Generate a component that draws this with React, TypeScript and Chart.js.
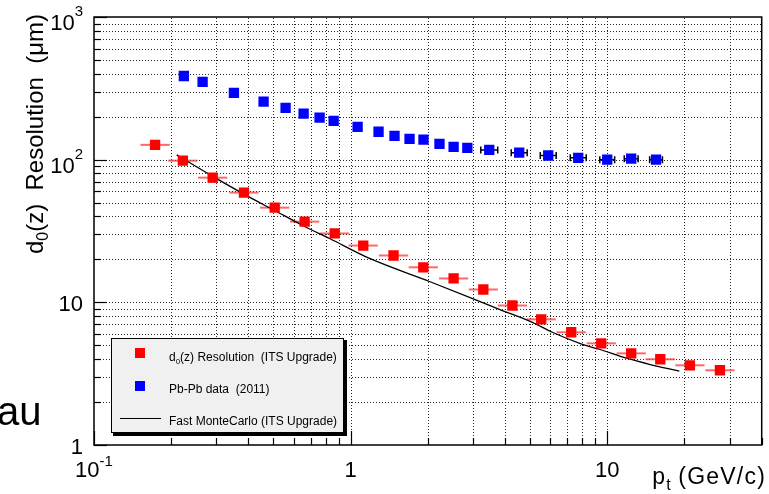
import React, { useEffect, useRef } from 'react';
import { Chart, registerables } from 'chart.js';

Chart.register(...registerables);

const W = 769;
const H = 494;
const FONT = "'Liberation Sans', Arial, Helvetica, sans-serif";

// d0(z) Resolution (ITS Upgrade) — red squares
const redPt = [0.173, 0.222, 0.29, 0.384, 0.506, 0.662, 0.867, 1.12, 1.47, 1.92, 2.52, 3.29, 4.27, 5.53, 7.24, 9.48, 12.4, 16.1, 21.0, 27.5];
const redD0 = [127, 98.4, 74.8, 58.8, 46.1, 36.8, 30.4, 25.0, 21.3, 17.6, 14.7, 12.3, 9.5, 7.6, 6.17, 5.16, 4.39, 3.99, 3.62, 3.34];
const redBinHalfWidthDex = 0.057;

// Pb-Pb data (2011) — blue squares
const bluePt = [0.224, 0.265, 0.351, 0.458, 0.558, 0.656, 0.757, 0.859, 1.065, 1.285, 1.483, 1.697, 1.923, 2.22, 2.52, 2.85, 3.47, 4.54, 5.89, 7.71, 10.0, 12.4, 15.5];
const blueD0 = [386, 351, 294, 255, 231, 210, 197, 187, 170, 157, 147, 140, 138, 129, 123, 121, 117, 112, 107, 103, 100, 101.6, 100];
const blueErrDex = [0, 0, 0, 0, 0, 0, 0, 0, 0, 0, 0, 0, 0, 0, 0, 0, 0.033, 0.031, 0.031, 0.031, 0.029, 0.027, 0.025];

// Fast MonteCarlo (ITS Upgrade) — black line
const mcPt = [0.21, 0.296, 0.387, 0.506, 0.662, 0.828, 1.186, 2.03, 3.04, 3.8, 5.11, 6.11, 8.0, 9.31, 11.9, 14.6, 19.1];
const mcD0 = [108, 74.8, 56.9, 44.0, 34.0, 28.0, 20.3, 14.0, 10.5, 8.93, 7.24, 6.17, 5.08, 4.69, 4.06, 3.68, 3.29];

// Axis ranges and tick labels
const xRange = [0.1, 40];
const yRange = [1, 1000];
const xTickValues = [0.1, 1, 10];
const xTickBase = ['10', '1', '10'];
const xTickSup = ['-1', '', ''];
const yTickValues = [1, 10, 100, 1000];
const yTickBase = ['1', '10', '10', '10'];
const yTickSup = ['', '', '2', '3'];

const legendLabels = ['Resolution  (ITS Upgrade)', 'Pb-Pb data  (2011)', 'Fast MonteCarlo (ITS Upgrade)'];

function logGridValues(min: number, max: number) {
  const out: { v: number; major: boolean }[] = [];
  for (let e = Math.floor(Math.log10(min)); e <= Math.ceil(Math.log10(max)); e++) {
    for (let k = 1; k <= 9; k++) {
      const v = k * Math.pow(10, e);
      if (v >= min * 0.9999 && v <= max * 1.0001) out.push({ v, major: k === 1 });
    }
  }
  return out;
}

type Part = { t: string; size: number; dy: number; ls?: number };
function drawParts(ctx: CanvasRenderingContext2D, parts: Part[], x: number, y: number, align: 'left' | 'right' | 'center') {
  let total = 0;
  const widths: number[] = [];
  const c: any = ctx;
  for (const p of parts) {
    ctx.font = `${p.size}px ${FONT}`;
    c.letterSpacing = `${p.ls || 0}px`;
    const w = ctx.measureText(p.t).width;
    widths.push(w);
    total += w;
  }
  let cx = align === 'left' ? x : align === 'right' ? x - total : x - total / 2;
  ctx.textAlign = 'left';
  ctx.textBaseline = 'alphabetic';
  parts.forEach((p, i) => {
    ctx.font = `${p.size}px ${FONT}`;
    c.letterSpacing = `${p.ls || 0}px`;
    ctx.fillText(p.t, cx, y + p.dy);
    cx += widths[i];
  });
  c.letterSpacing = '0px';
  return total;
}

const rootStyle = {
  id: 'rootStyle',
  beforeDraw(chart: any) {
    const ctx = chart.ctx as CanvasRenderingContext2D;
    ctx.save();
    ctx.fillStyle = '#ffffff';
    ctx.fillRect(0, 0, chart.width, chart.height);
    ctx.restore();
  },
  beforeDatasetsDraw(chart: any) {
    const ctx = chart.ctx as CanvasRenderingContext2D;
    const a = chart.chartArea;
    const xs = chart.scales.x;
    const ys = chart.scales.y;
    ctx.save();
    // dotted grid
    ctx.strokeStyle = 'rgba(0,0,0,0.85)';
    ctx.lineWidth = 1;
    ctx.setLineDash([1, 2]);
    for (const g of logGridValues(xRange[0], xRange[1])) {
      const px = Math.round(xs.getPixelForValue(g.v)) + 0.5;
      if (px <= a.left + 1 || px >= a.right - 1) continue;
      ctx.beginPath();
      ctx.moveTo(px, a.bottom);
      ctx.lineTo(px, a.top);
      ctx.stroke();
    }
    for (const g of logGridValues(yRange[0], yRange[1])) {
      const py = Math.round(ys.getPixelForValue(g.v)) + 0.5;
      if (py <= a.top + 1 || py >= a.bottom - 1) continue;
      ctx.beginPath();
      ctx.moveTo(a.left, py);
      ctx.lineTo(a.right, py);
      ctx.stroke();
    }
    ctx.setLineDash([]);
    // red x error bars (bin widths)
    ctx.strokeStyle = 'rgba(255,40,40,0.7)';
    ctx.lineWidth = 2;
    redPt.forEach((x, i) => {
      const f = Math.pow(10, redBinHalfWidthDex);
      const x0 = xs.getPixelForValue(x / f);
      const x1 = xs.getPixelForValue(x * f);
      const py = ys.getPixelForValue(redD0[i]);
      ctx.beginPath();
      ctx.moveTo(x0, py);
      ctx.lineTo(x1, py);
      ctx.stroke();
    });
    // blue error bars with caps
    ctx.strokeStyle = '#000';
    ctx.lineWidth = 1.5;
    bluePt.forEach((x, i) => {
      const d = blueErrDex[i];
      if (!d) return;
      const f = Math.pow(10, d);
      const x0 = xs.getPixelForValue(x / f);
      const x1 = xs.getPixelForValue(x * f);
      const py = ys.getPixelForValue(blueD0[i]);
      ctx.beginPath();
      ctx.moveTo(x0, py);
      ctx.lineTo(x1, py);
      ctx.moveTo(x0, py - 3.5);
      ctx.lineTo(x0, py + 3.5);
      ctx.moveTo(x1, py - 3.5);
      ctx.lineTo(x1, py + 3.5);
      ctx.stroke();
    });
    ctx.restore();
  },
  afterDatasetsDraw(chart: any) {
    const ctx = chart.ctx as CanvasRenderingContext2D;
    const a = chart.chartArea;
    const xs = chart.scales.x;
    const ys = chart.scales.y;
    ctx.save();
    ctx.strokeStyle = '#000';
    ctx.fillStyle = '#000';
    // frame
    ctx.lineWidth = 1.5;
    ctx.strokeRect(a.left, a.top, a.right - a.left, a.bottom - a.top);
    // ticks
    ctx.lineWidth = 1.2;
    for (const g of logGridValues(xRange[0], xRange[1])) {
      const px = Math.round(xs.getPixelForValue(g.v)) + 0.5;
      const len = g.major ? 14 : 7;
      ctx.beginPath();
      ctx.moveTo(px, a.bottom);
      ctx.lineTo(px, a.bottom - len);
      ctx.stroke();
    }
    for (const g of logGridValues(yRange[0], yRange[1])) {
      const py = Math.round(ys.getPixelForValue(g.v)) + 0.5;
      const len = g.major ? 13 : 7;
      ctx.beginPath();
      ctx.moveTo(a.left, py);
      ctx.lineTo(a.left + len, py);
      ctx.stroke();
    }
    // tick labels
    xTickValues.forEach((v, i) => {
      const px = xs.getPixelForValue(v);
      const parts: Part[] = [{ t: xTickBase[i], size: 22, dy: 0 }];
      if (xTickSup[i]) parts.push({ t: xTickSup[i], size: 15, dy: -11 });
      drawParts(ctx, parts, px, 477, 'center');
    });
    yTickValues.forEach((v, i) => {
      const py = ys.getPixelForValue(v);
      if (yTickSup[i]) {
        drawParts(ctx, [{ t: yTickBase[i], size: 22, dy: 0 }, { t: yTickSup[i], size: 15, dy: -14 }], 83, py + 13, 'right');
      } else {
        drawParts(ctx, [{ t: yTickBase[i], size: 22, dy: 0 }], 83, py + 9, 'right');
      }
    });
    // x title
    drawParts(ctx, [
      { t: 'p', size: 23, dy: 0, ls: 1.2 },
      { t: 't', size: 16, dy: 6 },
      { t: ' (GeV/c)', size: 23, dy: 0, ls: 1.2 },
    ], 766, 484, 'right');
    // y title (rotated)
    ctx.save();
    ctx.translate(43, 14);
    ctx.rotate(-Math.PI / 2);
    drawParts(ctx, [
      { t: 'd', size: 24, dy: 0 },
      { t: '0', size: 16, dy: 5 },
      { t: '(z)  Resolution  (\u03bcm)', size: 24, dy: 0 },
    ], 0, 0, 'right');
    ctx.restore();

    // legend
    const lx = 111, ly = 338, lw = 233, lh = 95;
    ctx.fillStyle = '#000';
    ctx.fillRect(lx + 2, ly + 2, lw + 1, lh + 1);
    ctx.fillStyle = '#f0f0f0';
    ctx.fillRect(lx, ly, lw, lh);
    ctx.lineWidth = 1;
    ctx.strokeStyle = '#000';
    ctx.strokeRect(lx + 0.5, ly + 0.5, lw - 1, lh - 1);
    ctx.fillStyle = '#ff0000';
    ctx.fillRect(135, 348, 10, 10);
    ctx.fillStyle = '#0000ff';
    ctx.fillRect(135, 381, 10, 10);
    ctx.strokeStyle = '#000';
    ctx.lineWidth = 1;
    ctx.beginPath();
    ctx.moveTo(120, 418.5);
    ctx.lineTo(161, 418.5);
    ctx.stroke();
    ctx.fillStyle = '#000';
    drawParts(ctx, [
      { t: 'd', size: 12, dy: 0 },
      { t: '0', size: 8, dy: 3 },
      { t: '(z) ' + legendLabels[0], size: 12, dy: 0 },
    ], 169, 361, 'left');
    drawParts(ctx, [{ t: legendLabels[1], size: 12, dy: 0 }], 169, 393, 'left');
    drawParts(ctx, [{ t: legendLabels[2], size: 12, dy: 0 }], 169, 425, 'left');

    // leftover slide text
    drawParts(ctx, [{ t: 'au', size: 40, dy: 0 }], -3, 425, 'left');
    ctx.restore();
  },
};

export default function App() {
  const ref = useRef<HTMLCanvasElement>(null);
  useEffect(() => {
    if (!ref.current) return;
    const chart = new Chart(ref.current, {
      type: 'scatter',
      data: {
        datasets: [
          {
            label: 'd0(z) Resolution (ITS Upgrade)',
            data: redPt.map((x, i) => ({ x, y: redD0[i] })),
            pointStyle: 'rect',
            pointRadius: 7.3,
            backgroundColor: '#ff0000',
            borderWidth: 0,
            showLine: false,
          },
          {
            label: 'Pb-Pb data (2011)',
            data: bluePt.map((x, i) => ({ x, y: blueD0[i] })),
            pointStyle: 'rect',
            pointRadius: 7.3,
            backgroundColor: '#0000ff',
            borderWidth: 0,
            showLine: false,
          },
          {
            label: 'Fast MonteCarlo (ITS Upgrade)',
            data: mcPt.map((x, i) => ({ x, y: mcD0[i] })),
            showLine: true,
            pointRadius: 0,
            borderColor: '#000',
            borderWidth: 1.3,
            cubicInterpolationMode: 'monotone',
            fill: false,
          } as any,
        ],
      },
      options: {
        responsive: false,
        animation: false,
        devicePixelRatio: 1,
        events: [],
        layout: { padding: { top: 17, right: 6, left: 0, bottom: 0 } },
        plugins: { legend: { display: false }, tooltip: { enabled: false } },
        scales: {
          x: {
            type: 'logarithmic',
            min: xRange[0],
            max: xRange[1],
            grid: { display: false, drawTicks: false },
            border: { display: false },
            ticks: { display: false },
            afterFit: (s: any) => { s.height = 49; },
          },
          y: {
            type: 'logarithmic',
            min: yRange[0],
            max: yRange[1],
            grid: { display: false, drawTicks: false },
            border: { display: false },
            ticks: { display: false },
            afterFit: (s: any) => { s.width = 94; },
          },
        },
      },
      plugins: [rootStyle],
    } as any);
    return () => chart.destroy();
  }, []);
  return (
    <div style={{ position: 'fixed', left: 0, top: 0, width: W, height: H, background: '#fff' }}>
      <canvas ref={ref} width={W} height={H} style={{ display: 'block', width: W, height: H }} />
    </div>
  );
}
